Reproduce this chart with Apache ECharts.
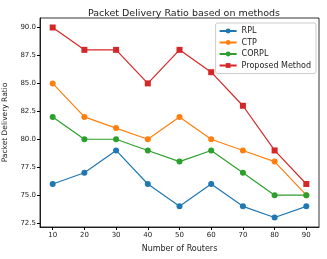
<!DOCTYPE html>
<html><head><meta charset="utf-8">
<script src="https://cdn.jsdelivr.net/npm/echarts@6/dist/echarts.min.js"></script>
<style>html,body{margin:0;padding:0;background:#fff}#c{width:327px;height:259px}</style>
</head><body><div id="c"></div>
<script>
var routers = [10, 20, 30, 40, 50, 60, 70, 80, 90];
var rpl = [76, 77, 79, 76, 74, 76, 74, 73, 74];
var ctp = [85, 82, 81, 80, 82, 80, 79, 78, 75];
var corpl = [82, 80, 80, 79, 78, 79, 77, 75, 75];
var proposed = [90, 88, 88, 85, 88, 86, 83, 79, 76];
var yTicks = [72.5, 75, 77.5, 80, 82.5, 85, 87.5, 90];
var xTicks = [10, 20, 30, 40, 50, 60, 70, 80, 90];
var seriesNames = ['RPL', 'CTP', 'CORPL', 'Proposed Method'];
var colors = ['#1f77b4', '#ff7f0e', '#2ca02c', '#d62728'];

function pairs(v){ return routers.map(function(x,i){return [x, v[i]];}); }
var F = 'DejaVu Sans';
var chart = echarts.init(document.getElementById('c'), null, {renderer:'canvas'});
var data = [rpl, ctp, corpl, proposed];
chart.setOption({
  animation: false,
  textStyle: {fontFamily: F},
  title: {text: 'Packet Delivery Ratio based on methods', left: 179, top: 4, textAlign: 'center',
    textStyle: {fontFamily: F, fontSize: 9.5, fontWeight: 'normal', color: '#222'}},
  grid: {left: 40, right: 8, top: 18, bottom: 32, containLabel: false, outerBoundsMode: 'none'},
  legend: {
    right: 11, top: 23, orient: 'vertical', itemGap: 3.5, itemWidth: 17, itemHeight: 6,
    padding: [4, 5, 4, 3], borderColor: '#ccc', borderWidth: 1, borderRadius: 2,
    textStyle: {fontFamily: F, fontSize: 8, color: '#222'},
    data: seriesNames
  },
  xAxis: {
    type: 'value', min: 6, max: 94,
    name: 'Number of Routers', nameLocation: 'middle', nameGap: 18,
    nameTextStyle: {fontFamily: F, fontSize: 8, color: '#222'},
    splitLine: {show: false},
    axisLine: {show: true, lineStyle: {color: '#000', width: 0.8}},
    axisTick: {show: true, length: 3, customValues: xTicks, lineStyle: {color: '#000'}},
    axisLabel: {customValues: xTicks, fontSize: 7, color: '#222', margin: 5}
  },
  yAxis: {
    type: 'value', min: 72.15, max: 90.85,
    name: 'Packet Delivery Ratio', nameLocation: 'middle', nameGap: 31, nameRotate: 90,
    nameTextStyle: {fontFamily: F, fontSize: 7.5, color: '#222'},
    splitLine: {show: false},
    axisLine: {show: true, lineStyle: {color: '#000', width: 0.8}},
    axisTick: {show: true, length: 3, customValues: yTicks, lineStyle: {color: '#000'}},
    axisLabel: {customValues: yTicks, fontSize: 7, color: '#222', margin: 4,
      formatter: function(v){ return v.toFixed(1); }}
  },
  series: data.map(function(d, i){
    return {
      name: seriesNames[i], type: 'line', data: pairs(d),
      symbol: i === 3 ? 'rect' : 'circle', symbolSize: 6, showAllSymbol: true,
      itemStyle: {color: colors[i]}, lineStyle: {color: colors[i], width: 1.2}, emphasis: {disabled: true}
    };
  })
});
</script>
<script>
(function(){
  var c = echarts.getInstanceByDom(document.getElementById('c'));
  var p0 = c.convertToPixel({gridIndex:0}, [6, 90.85]);
  var p1 = c.convertToPixel({gridIndex:0}, [94, 72.15]);
  c.setOption({graphic: [{type:'rect', silent:true, z:-1,
    shape:{x:p0[0], y:p0[1], width:p1[0]-p0[0], height:p1[1]-p0[1]},
    style:{fill:'none', stroke:'#000', lineWidth:0.8}}]});
})();
</script>
</body></html>
